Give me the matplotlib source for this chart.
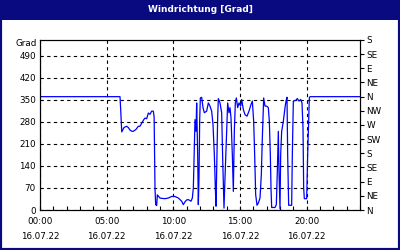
import numpy as np
import matplotlib
matplotlib.use('Agg')
import matplotlib.pyplot as plt
from matplotlib.patches import Rectangle

# Время (часы от 00:00) и направление ветра в градусах, по участкам
hours_a = [0.0, 6.0, 6.05, 6.13, 6.3, 6.5, 6.62, 6.75, 6.9, 7.0, 7.2, 7.375,
           7.5, 7.625, 7.8, 7.875, 8.0, 8.125, 8.25, 8.375, 8.5, 8.56]
dir_a = [360, 360, 320, 248, 262, 266, 262, 254, 250, 250, 256, 266,
         266, 276, 288, 292, 290, 308, 304, 314, 314, 295]

hours_b = [8.625, 8.675, 8.75, 8.8, 8.875, 9.0, 9.125, 9.375, 9.625, 9.875,
           10.125, 10.375, 10.625, 10.75, 10.875, 11.0, 11.125, 11.325, 11.425]
dir_b = [70, 17, 14, 48, 44, 38, 37, 36, 38, 43,
         43, 38, 28, 17, 26, 32, 33, 28, 38]

hours_c = [11.5, 11.575, 11.625, 11.7, 11.75, 11.825, 11.875, 11.925, 11.975, 12.025,
           12.125, 12.225, 12.325, 12.5, 12.625, 12.75, 12.875, 12.975, 13.075, 13.15,
           13.2, 13.275, 13.325, 13.375, 13.5, 13.625, 13.7, 13.8, 13.875, 14.0,
           14.075, 14.175, 14.25, 14.325, 14.425, 14.5, 14.575, 14.65, 14.725, 14.825,
           14.925, 15.05, 15.125, 15.25, 15.375, 15.525, 15.675, 15.825, 15.925, 16.025,
           16.1, 16.175, 16.275, 16.375, 16.5, 16.6, 16.675, 16.775, 16.875, 17.0,
           17.125, 17.2, 17.275, 17.325, 17.375, 17.625, 17.725, 17.8, 17.875, 17.925,
           18.0, 18.05, 18.125, 18.25, 18.375, 18.45, 18.525, 18.575, 18.65, 18.875,
           18.925, 19.0, 19.175, 19.3, 19.425, 19.55, 19.65, 19.725, 19.775, 19.825,
           20.0, 20.075, 20.15, 20.2]
dir_c = [70, 197, 287, 250, 340, 176, 17, 102, 282, 356,
         358, 325, 309, 314, 340, 330, 314, 272, 176, 70,
         12, 176, 293, 354, 340, 309, 165, 6, 102, 250,
         340, 309, 325, 293, 176, 59, 250, 340, 356, 325,
         340, 330, 351, 319, 303, 298, 314, 335, 346, 282,
         176, 49, 15, 22, 38, 112, 229, 356, 330, 330,
         325, 282, 176, 70, 8, 8, 17, 123, 250, 123,
         4, 176, 250, 282, 325, 346, 358, 176, 15, 15,
         176, 346, 348, 354, 346, 351, 340, 261, 70, 36,
         36, 176, 282, 356]

hours_d = [20.25, 24.0]
dir_d = [360, 360]

grad_ticks = [0, 70, 140, 210, 280, 350, 420, 490]
compass_ticks = [0, 45, 90, 135, 180, 225, 270, 315, 360, 405, 450, 495, 540]
compass_labels = ['N', 'NE', 'E', 'SE', 'S', 'SW', 'W', 'NW', 'N', 'NE', 'E', 'SE', 'S']
time_ticks = [0, 5, 10, 15, 20]
time_labels = ['00:00\n16.07.22', '05:00\n16.07.22', '10:00\n16.07.22',
               '15:00\n16.07.22', '20:00\n16.07.22']

hours = hours_a + hours_b + hours_c + hours_d
direction = dir_a + dir_b + dir_c + dir_d

navy = '#0a0a80'
fs = 6.3

fig = plt.figure(figsize=(4, 2.5), dpi=100)
fig.patch.set_facecolor('white')

# Рамка и заголовок
fig.patches.append(Rectangle((0, 0), 1, 1, transform=fig.transFigure,
                             facecolor='none', edgecolor=navy, linewidth=3, zorder=0))
fig.patches.append(Rectangle((0, 1 - 20 / 250), 1, 20 / 250, transform=fig.transFigure,
                             facecolor=navy, edgecolor='none', zorder=1))
fig.text(0.5, 1 - 9 / 250, 'Windrichtung [Grad]', color='white', fontsize=6.5,
         fontweight='bold', ha='center', va='center')

ax = fig.add_axes([40 / 400, 1 - 210 / 250, 320 / 400, 170 / 250])
ax.plot(hours, direction, color='#0000ff', linewidth=0.9)

ax.set_xlim(0, 24)
ax.set_ylim(0, 540)

ax.set_xticks(time_ticks)
ax.set_xticklabels(time_labels, fontsize=fs, linespacing=1.9)
ax.set_xticks(range(0, 25), minor=True)
ax.tick_params(axis='x', which='both', direction='in', length=3, width=0.8,
               pad=5, top=False)

ax.set_yticks(grad_ticks)
ax.set_yticklabels([str(v) for v in grad_ticks], fontsize=fs)
ax.tick_params(axis='y', length=0, pad=3)

ax.grid(True, color='black', linestyle=(0, (3, 3)), linewidth=0.8)

ax2 = ax.twinx()
ax2.set_ylim(0, 540)
ax2.set_yticks(compass_ticks)
ax2.set_yticklabels(compass_labels, fontsize=fs)
ax2.tick_params(axis='y', direction='out', length=3, width=0.8, pad=1.5)

for a in (ax, ax2):
    for s in a.spines.values():
        s.set_linewidth(0.8)

ax.text(-0.01, 0.98, 'Grad', transform=ax.transAxes, ha='right', va='center',
        fontsize=fs)

fig.savefig('out.png', dpi=100)
